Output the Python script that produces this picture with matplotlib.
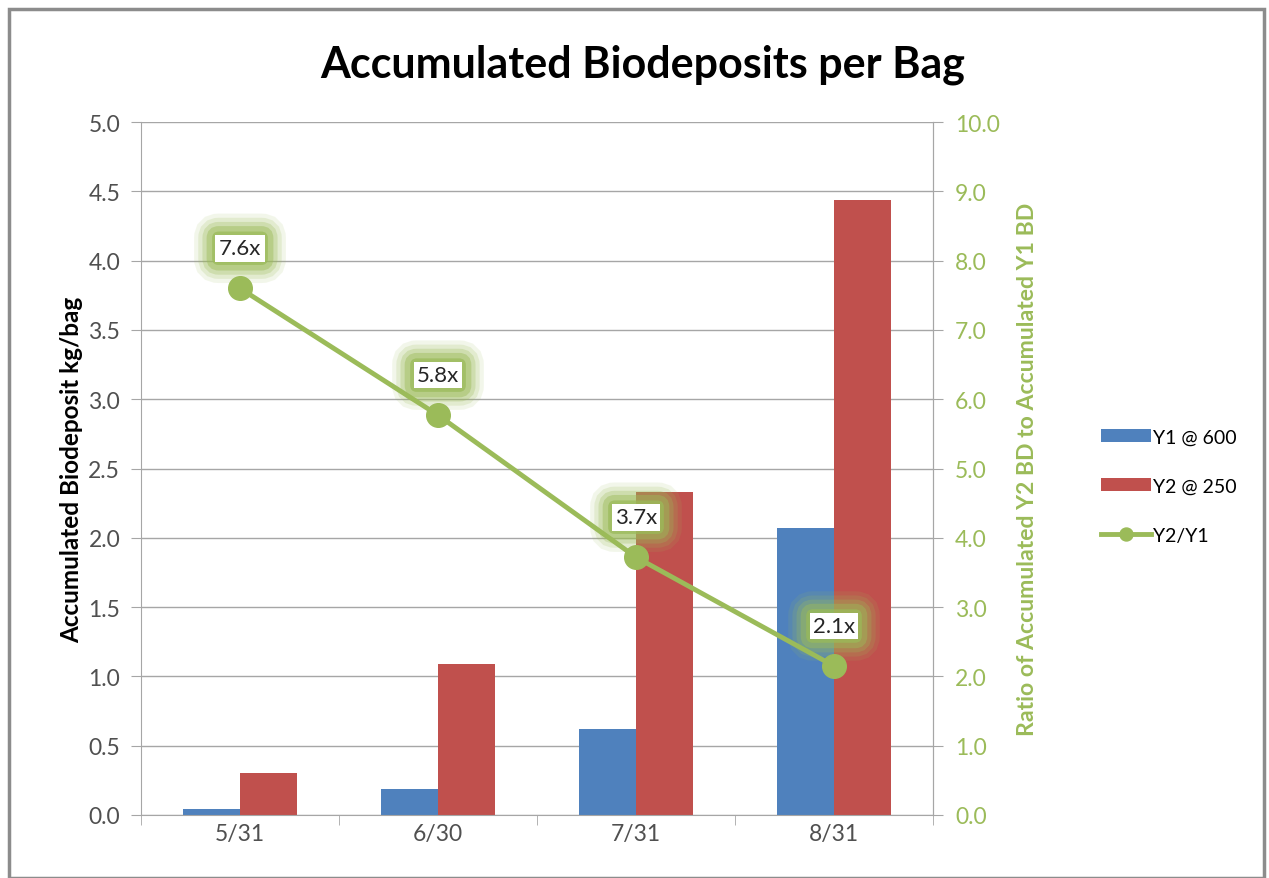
import matplotlib
matplotlib.use("Agg")
import matplotlib.pyplot as plt
import numpy as np
from matplotlib.patches import Rectangle

categories = ["5/31", "6/30", "7/31", "8/31"]
y1_600 = [0.04, 0.19, 0.62, 2.07]
y2_250 = [0.30, 1.09, 2.33, 4.44]
ratio = [7.6, 5.77, 3.72, 2.15]
ratio_labels = ["7.6x", "5.8x", "3.7x", "2.1x"]

plt.rcParams['font.family'] = ['Lato', 'DejaVu Sans']

blue = "#4F81BD"
red = "#C0504D"
green = "#9BBB59"
grid = "#A6A6A6"
tickc = "#505050"

fig = plt.figure(figsize=(12.69, 8.79), dpi=100)
fig.patches.append(Rectangle((9/1269, 0), 1255/1269, 1 - 10/879, transform=fig.transFigure,
                             fill=False, edgecolor="#8C8C8C", linewidth=2.5))

ax = fig.add_axes([141/1269, 1 - 816/879, (933-141)/1269, (816-123)/879])
x = np.arange(len(categories))
w = 0.29
ax.bar(x - w/2, y1_600, w, color=blue, label="Y1 @ 600", zorder=2)
ax.bar(x + w/2, y2_250, w, color=red, label="Y2 @ 250", zorder=2)
ax.set_xlim(-0.5, 3.5)
ax.set_ylim(0, 5)
ax.set_yticks(np.arange(0, 5.01, 0.5))
ax.set_yticklabels([f"{v:.1f}" for v in np.arange(0, 5.01, 0.5)], fontsize=16.5, color=tickc)
ax.set_xticks(x)
ax.set_xticklabels(categories, fontsize=16.5, color=tickc)
ax.set_xticks(np.arange(-0.5, 3.6, 1), minor=True)
ax.tick_params(axis='x', which='major', length=0, pad=6)
ax.tick_params(axis='x', which='minor', length=7, color=grid)
ax.tick_params(axis='y', length=7, color=grid, pad=8)
ax.grid(axis='y', color=grid, linewidth=1, zorder=0)
ax.set_axisbelow(True)
ax.spines['top'].set_visible(False)
for s in ['left', 'bottom', 'right']:
    ax.spines[s].set_color(grid)
ax.set_ylabel("Accumulated Biodeposit kg/bag", fontsize=17.5, fontweight='bold', labelpad=4)

ax2 = ax.twinx()
ax2.set_ylim(0, 10)
ax2.set_yticks(np.arange(0, 10.01, 1))
ax2.set_yticklabels([f"{v:.1f}" for v in np.arange(0, 10.01, 1)], fontsize=16.5, color=green)
ax2.tick_params(axis='y', length=7, color=grid, pad=9)
for s in ['top', 'left', 'bottom']:
    ax2.spines[s].set_visible(False)
ax2.spines['right'].set_color(grid)
ln, = ax2.plot(x, ratio, color=green, linewidth=3.5, marker='o', markersize=17, label="Y2/Y1", zorder=5)
ax2.set_ylabel("Ratio of Accumulated Y2 BD to Accumulated Y1 BD", fontsize=16.6, fontweight='bold',
               color=green, labelpad=12)

for xi, r, lab in zip(x, ratio, ratio_labels):
    for lw, a in [(26, 0.12), (20, 0.18), (14, 0.28), (8, 0.45)]:
        ax2.annotate(lab, (xi, r), xytext=(0, 40), textcoords='offset pixels',
                     ha='center', va='center', fontsize=16, color='none',
                     bbox=dict(boxstyle='round,pad=0.3', facecolor=green, edgecolor=green,
                               linewidth=lw, alpha=a), zorder=6)
    ax2.annotate(lab, (xi, r), xytext=(0, 40), textcoords='offset pixels',
                 ha='center', va='center', fontsize=16, color="#262626",
                 bbox=dict(boxstyle='square,pad=0.15', facecolor='white', edgecolor='none'), zorder=7)

h1, l1 = ax.get_legend_handles_labels()
fig.legend(h1 + [ln], l1 + ["Y2/Y1"], loc='center left', bbox_to_anchor=(1083/1269, 1 - 487/879),
           frameon=False, fontsize=14, handlelength=2.6, labelspacing=1.65, handletextpad=0.1,
           markerscale=0.55)

fig.text(643/1269, 1 - 65/879, "Accumulated Biodeposits per Bag", ha='center', va='center',
         fontsize=31, fontweight='bold', color="black")

fig.savefig("out.png", dpi=100)
